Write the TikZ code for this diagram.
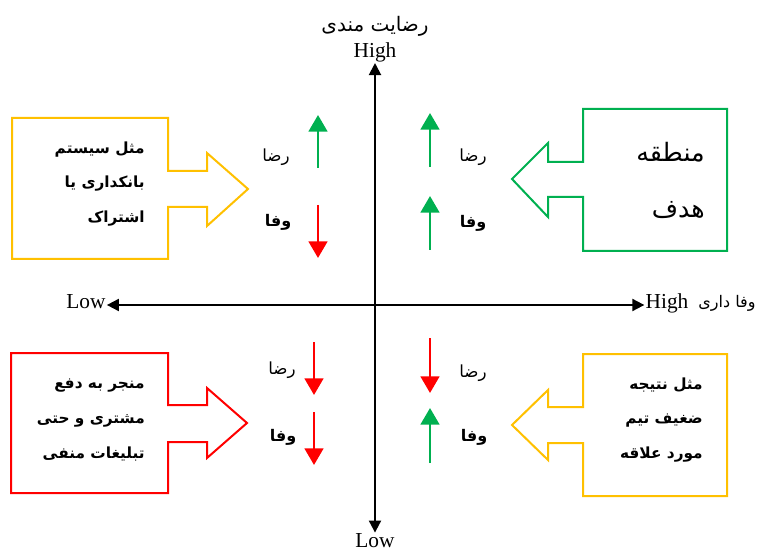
\documentclass[tikz,border=0pt]{standalone}
\usepackage{fontspec}
\usetikzlibrary{arrows.meta}
\setmainfont{Liberation Serif}
\newfontfamily\farsi[Script=Arabic]{DejaVu Sans}
\TeXXeTstate=1
\definecolor{Gold}{HTML}{FFC000}
\definecolor{Leaf}{HTML}{00B050}
\definecolor{Alarm}{HTML}{FF0000}
\tikzset{
  axis/.style={line width=1.5pt,{Triangle[length=9pt,width=9pt]}-{Triangle[length=9pt,width=9pt]}},
  trend/.style={line width=2pt,-{Triangle[length=12.5pt,width=14pt]}},
  lbl/.style={font=\fontsize{16}{18}\selectfont,inner sep=0pt,outer sep=1pt},
  fa/.style={font=\farsi\fontsize{12.5}{14}\selectfont,inner sep=0pt},
  fabold/.style={fa,font=\farsi\bfseries\fontsize{12}{14}\selectfont},
  title/.style={font=\farsi\fontsize{12}{14}\selectfont,inner sep=0pt},
  boxtext/.style={font=\farsi\bfseries\fontsize{11.5}{26}\selectfont,align=right,anchor=east,inner sep=0pt},
  frame/.style={line width=1.5pt,line join=miter},
}

\begin{document}
\begin{tikzpicture}[x=.75pt,y=-.75pt]
\useasboundingbox (0,0) rectangle (767,552);
% axes
\node[lbl] (yhigh) at (375,52) {High};
\node[lbl] (ylow) at (375,541) {Low};
\node[title,font=\farsi\fontsize{15}{17}\selectfont] (ytitle) at (375,26) {\beginR رضایت مندی\endR};
\node[lbl,anchor=mid] (xlow) at (86,305) {Low};
\node[lbl,anchor=mid] (xhigh) at (667,305) {High};
\node[title] (xtitle) at (727,303) {\beginR وفا داری\endR};
\draw[axis] (ylow) -- (yhigh);
\draw[axis] (xlow.mid east) -- (xhigh.mid west);
% top left
\draw[frame,Gold] (12,118) -- (168,118) -- (168,171) -- (207,171) -- (207,153) -- (248,189)
  -- (207,226) -- (207,207) -- (168,207) -- (168,259) -- (12,259) -- cycle;
\node[boxtext] (tl) at (145,184) {\beginR مثل سیستم\endR\\ \beginR بانکداری یا\endR\\ \beginR اشتراک\endR};
\node[fa] (tlr) at (276,157) {\beginR رضا\endR};
\node[fabold] (tlv) at (278,222) {\beginR وفا\endR};
\draw[trend,Leaf] (318,168) -- (318,115);
\draw[trend,Alarm] (318,205) -- (318,258);
% top right
\draw[frame,Leaf] (727,109) -- (583,109) -- (583,162) -- (548,162) -- (548,143) -- (512,179)
  -- (548,217) -- (548,197) -- (583,197) -- (583,251) -- (727,251) -- cycle;
\node[font=\farsi\fontsize{19}{42}\selectfont,align=right,anchor=east,inner sep=0pt] (tr) at (705,180)
  {\beginR منطقه\endR\\ \beginR هدف\endR};
\node[fa] (trr) at (473,157) {\beginR رضا\endR};
\node[fabold] (trv) at (473,223) {\beginR وفا\endR};
\draw[trend,Leaf] (430,167) -- (430,113);
\draw[trend,Leaf] (430,250) -- (430,196);
% bottom left
\draw[frame,Alarm] (11,353) -- (168,353) -- (168,405) -- (207,405) -- (207,388) -- (247,423)
  -- (207,458) -- (207,442) -- (168,442) -- (168,493) -- (11,493) -- cycle;
\node[boxtext] (bl) at (145,420) {\beginR منجر به دفع\endR\\ \beginR مشتری و حتی\endR\\ \beginR تبلیغات منفی\endR};
\node[fa] (blr) at (282,370) {\beginR رضا\endR};
\node[fabold] (blv) at (283,437) {\beginR وفا\endR};
\draw[trend,Alarm] (314,342) -- (314,395);
\draw[trend,Alarm] (314,412) -- (314,465);
% bottom right
\draw[frame,Gold] (727,354) -- (583,354) -- (583,407) -- (548,407) -- (548,390) -- (512,425)
  -- (548,460) -- (548,443) -- (583,443) -- (583,496) -- (727,496) -- cycle;
\node[boxtext] (br) at (703,420) {\beginR مثل نتیجه\endR\\ \beginR ضغیف تیم\endR\\ \beginR مورد علاقه\endR};
\node[fa] (brr) at (473,373) {\beginR رضا\endR};
\node[fabold] (brv) at (474,437) {\beginR وفا\endR};
\draw[trend,Alarm] (430,338) -- (430,393);
\draw[trend,Leaf] (430,463) -- (430,408);
\end{tikzpicture}
\end{document}
